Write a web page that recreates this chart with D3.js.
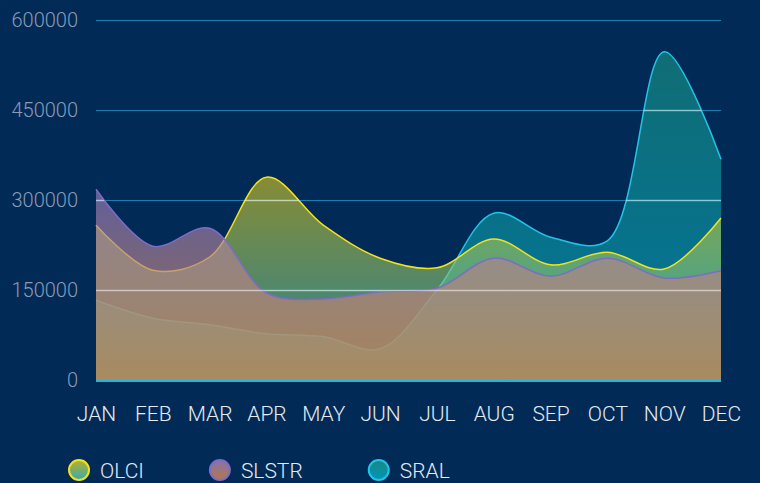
<!DOCTYPE html>
<html>
<head>
<meta charset="utf-8">
<script src="https://cdn.jsdelivr.net/npm/d3@7"></script>
<style>
  html, body { margin: 0; padding: 0; background: #022a56; }
  svg { display: block; font-family: Roboto, 'Open Sans', sans-serif; }
</style>
</head>
<body>
<svg id="chart" width="760" height="483"></svg>
<script>
const months = ['JAN', 'FEB', 'MAR', 'APR', 'MAY', 'JUN', 'JUL', 'AUG', 'SEP', 'OCT', 'NOV', 'DEC']
const yTicks = [0, 150000, 300000, 450000, 600000]

// values
const olci = [258000, 183000, 205000, 338000, 258000, 203000, 187000, 235000, 192000, 213000, 185000, 270000]
const slstr = [318000, 223000, 253000, 145000, 135000, 147000, 153000, 203000, 173000, 203000, 170000, 182000]
const sral = [133000, 103000, 92000, 77000, 72000, 52000, 150000, 278000, 238000, 232000, 547000, 368000]

const seriesNames = ['OLCI', 'SLSTR', 'SRAL']

const svg = d3.select('#chart')
const margin = { left: 96, right: 39, top: 20, bottom: 103 }
const width = +svg.attr('width')
const height = +svg.attr('height')

const x = d3.scalePoint().domain(months).range([margin.left, width - margin.right])
const y = d3.scaleLinear().domain([0, 600000]).range([height - margin.bottom, margin.top])

const defs = svg.append('defs')

// fill gradients, from top of the series to the baseline
const styles = {
  SRAL: { line: '#22c3e6', top: ['#1a9a88', 0.6], bottom: ['#00a8cc', 0.6], values: sral },
  OLCI: { line: '#f2e21c', top: ['#d8c820', 0.62], bottom: ['#40c0c0', 0.6], values: olci },
  SLSTR: { line: '#7d6cc4', top: ['#9c80c0', 0.62], bottom: ['#d48442', 0.75], values: slstr }
}

Object.keys(styles).forEach(name => {
  const s = styles[name]
  const g = defs.append('linearGradient')
    .attr('id', 'grad-' + name)
    .attr('gradientUnits', 'userSpaceOnUse')
    .attr('x1', 0).attr('x2', 0)
    .attr('y1', y(d3.max(s.values)))
    .attr('y2', y(0))
  g.append('stop').attr('offset', '0%').attr('stop-color', s.top[0]).attr('stop-opacity', s.top[1])
  g.append('stop').attr('offset', '100%').attr('stop-color', s.bottom[0]).attr('stop-opacity', s.bottom[1])

  // legend swatch gradient
  const lg = defs.append('linearGradient')
    .attr('id', 'lgrad-' + name)
    .attr('x1', 0).attr('x2', 0).attr('y1', 0).attr('y2', 1)
  lg.append('stop').attr('offset', '0%').attr('stop-color', s.top[0]).attr('stop-opacity', 0.85)
  lg.append('stop').attr('offset', '100%').attr('stop-color', s.bottom[0]).attr('stop-opacity', 0.85)
})

const curve = d3.curveCatmullRom.alpha(0.5)
const area = d3.area()
  .x((d, i) => x(months[i]))
  .y0(y(0))
  .y1(d => y(d))
  .curve(curve)
const line = d3.line()
  .x((d, i) => x(months[i]))
  .y(d => y(d))
  .curve(curve)

// clip for the light part of the grid lines (over the areas)
const clip = defs.append('clipPath').attr('id', 'areas-clip')
seriesNames.forEach(name => {
  clip.append('path').attr('d', area(styles[name].values))
})

// grid lines under the areas
svg.append('g')
  .selectAll('line')
  .data(yTicks.filter(d => d > 0))
  .enter()
  .append('line')
  .attr('x1', x('JAN'))
  .attr('x2', x('DEC'))
  .attr('y1', d => Math.round(y(d)) + 0.5)
  .attr('y2', d => Math.round(y(d)) + 0.5)
  .attr('stroke', '#1b7db0')
  .attr('stroke-width', 1.2)

// areas: SRAL at the bottom, then OLCI, SLSTR on top
const layers = svg.append('g')
;['SRAL', 'OLCI', 'SLSTR'].forEach(name => {
  const s = styles[name]
  layers.append('path')
    .attr('d', area(s.values))
    .attr('fill', 'url(#grad-' + name + ')')
  layers.append('path')
    .attr('d', line(s.values))
    .attr('fill', 'none')
    .attr('stroke', s.line)
    .attr('stroke-width', 1.5)
})

// grid lines over the areas
svg.append('g')
  .attr('clip-path', 'url(#areas-clip)')
  .selectAll('line')
  .data(yTicks.filter(d => d > 0))
  .enter()
  .append('line')
  .attr('x1', x('JAN'))
  .attr('x2', x('DEC'))
  .attr('y1', d => Math.round(y(d)) + 0.5)
  .attr('y2', d => Math.round(y(d)) + 0.5)
  .attr('stroke', '#ffffff')
  .attr('stroke-opacity', 0.5)
  .attr('stroke-width', 1.5)

// base line
svg.append('line')
  .attr('x1', x('JAN'))
  .attr('x2', x('DEC'))
  .attr('y1', y(0) + 1)
  .attr('y2', y(0) + 1)
  .attr('stroke', '#1cb8e0')
  .attr('stroke-width', 2)

// y axis labels
const yAxis = svg.append('g')
  .attr('transform', `translate(78,0)`)
  .call(d3.axisLeft(y).tickValues(yTicks).tickSize(0).tickPadding(0).tickFormat(d3.format('d')))
yAxis.select('.domain').remove()
yAxis.selectAll('text')
  .attr('fill', '#8a9bb6')
  .style('font-size', '20px')
  .style('font-weight', 300)
  .style('font-family', 'Roboto, sans-serif')

// x axis labels
const xAxis = svg.append('g')
  .attr('transform', `translate(0,${y(0) + 26})`)
  .call(d3.axisBottom(x).tickSize(0).tickPadding(0))
xAxis.select('.domain').remove()
xAxis.selectAll('text')
  .attr('fill', '#e4ebf3')
  .style('font-size', '21px')
  .style('font-weight', 300)
  .style('font-family', 'Roboto, sans-serif')

// legend
const legend = svg.append('g')
let lx = 69
seriesNames.forEach(name => {
  const item = legend.append('g').attr('transform', `translate(${lx},470)`)
  item.append('circle')
    .attr('cx', 10)
    .attr('cy', 0)
    .attr('r', 10)
    .attr('fill', 'url(#lgrad-' + name + ')')
    .attr('stroke', styles[name].line)
    .attr('stroke-width', 2)
  const t = item.append('text')
    .attr('x', 31)
    .attr('y', 8)
    .attr('fill', '#e4ebf3')
    .style('font-size', '21px')
    .style('font-weight', 300)
    .text(name)
  lx += 31 + t.node().getComputedTextLength() + 66
})
</script>
</body>
</html>
